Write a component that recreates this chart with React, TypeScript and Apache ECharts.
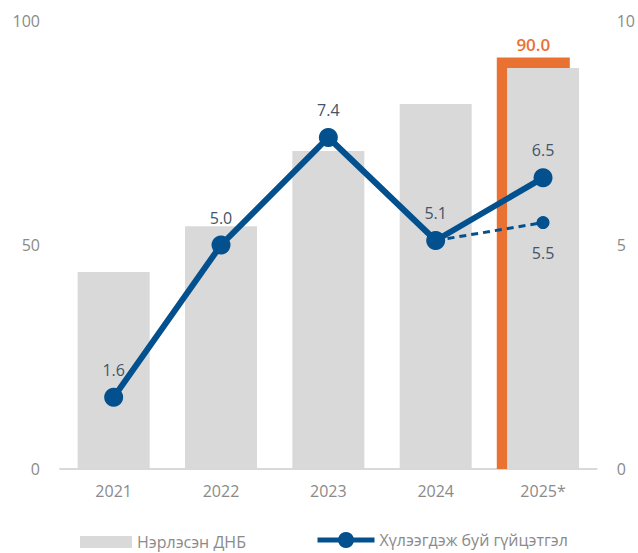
import React, { useEffect, useRef } from "react";
import * as echarts from "echarts";

const categories = ["2021", "2022", "2023", "2024", "2025*"];
const gdpValues = [44.0, 54.2, 71.0, 81.5, 89.5];
const targetValues = [null, null, null, null, 90.0];
const growthValues = [1.6, 5.0, 7.4, 5.1, 6.5];
const growthAltValues = [null, null, null, 5.1, 5.5];
const leftTicks = { min: 0, max: 100, interval: 50 };
const rightTicks = { min: 0, max: 10, interval: 5 };
const gdpName = "Нэрлэсэн ДНБ";
const growthName = "Хүлээгдэж буй гүйцэтгэл";

const FONT = "'Open Sans', 'Noto Sans', sans-serif";
const GRAY_TXT = "#8a8a8a";
const BLUE = "#02508e";
const LABEL = "#44546a";
const ORANGE = "#e97132";

export default function App() {
  const ref = useRef<HTMLDivElement>(null);
  useEffect(() => {
    document.body.style.margin = "0";
    if (!ref.current) return;
    const chart = echarts.init(ref.current, null, { renderer: "svg" });
    const axisLabel = { color: GRAY_TXT, fontSize: 16, fontFamily: FONT };
    chart.setOption({
      animation: false,
      textStyle: { fontFamily: FONT },
      grid: [
        { left: 60, right: 36, top: 21, bottom: 84 },
        { left: 45.5, right: 50.5, top: 21, bottom: 84 },
      ],
      xAxis: [
        {
          type: "category",
          gridIndex: 0,
          data: categories,
          axisLine: { lineStyle: { color: "#d9d9d9", width: 2 } },
          axisTick: { show: false },
          axisLabel: { ...axisLabel, margin: 14 },
        },
        {
          type: "category",
          gridIndex: 1,
          data: categories,
          show: false,
        },
      ],
      yAxis: [
        {
          type: "value",
          gridIndex: 0,
          ...leftTicks,
          splitLine: { show: false },
          axisLine: { show: false },
          axisTick: { show: false },
          axisLabel: { ...axisLabel, margin: 20 },
        },
        {
          type: "value",
          gridIndex: 0,
          position: "right",
          ...rightTicks,
          splitLine: { show: false },
          axisLine: { show: false },
          axisTick: { show: false },
          axisLabel: { ...axisLabel, margin: 20 },
        },
        {
          type: "value",
          gridIndex: 1,
          min: 0,
          max: 98,
          show: false,
        },
      ],
      legend: [
        {
          left: 75,
          top: 529,
          itemWidth: 52,
          itemHeight: 12,
          data: [{ name: gdpName, icon: "rect" }],
          textStyle: { color: GRAY_TXT, fontSize: 16, fontFamily: FONT },
        },
        {
          left: 310,
          top: 527,
          itemWidth: 57,
          itemHeight: 20,
          data: [{ name: growthName, lineStyle: { width: 5 } }],
          textStyle: { color: GRAY_TXT, fontSize: 16, fontFamily: FONT },
        },
      ],
      series: [
        {
          type: "bar",
          name: "target",
          xAxisIndex: 1,
          yAxisIndex: 2,
          data: targetValues,
          barWidth: 73,
          z: 1,
          itemStyle: { color: ORANGE },
          label: {
            show: true,
            position: "top",
            distance: 5,
            color: ORANGE,
            fontSize: 17,
            fontWeight: 600,
            fontFamily: FONT,
            formatter: (p: any) => (p.value == null ? "" : Number(p.value).toFixed(1)),
          },
        },
        {
          type: "bar",
          name: gdpName,
          xAxisIndex: 0,
          yAxisIndex: 0,
          data: gdpValues,
          barWidth: 72,
          z: 2,
          itemStyle: { color: "#d9d9d9" },
        },
        {
          type: "line",
          name: "alt",
          xAxisIndex: 0,
          yAxisIndex: 1,
          z: 3,
          data: growthAltValues.map((v, i) =>
            v == null ? null : i === growthAltValues.length - 1 ? { value: v } : { value: v, symbol: "none", label: { show: false } }
          ),
          symbol: "circle",
          symbolSize: 13,
          lineStyle: { color: BLUE, width: 3, type: [7, 5] },
          itemStyle: { color: BLUE },
          label: {
            show: true,
            position: "bottom",
            distance: 16,
            color: LABEL,
            fontSize: 16,
            fontFamily: FONT,
            formatter: (p: any) => Number(p.value).toFixed(1),
          },
        },
        {
          type: "line",
          name: growthName,
          xAxisIndex: 0,
          yAxisIndex: 1,
          z: 4,
          data: growthValues,
          symbol: "circle",
          symbolSize: 19,
          lineStyle: { color: BLUE, width: 6 },
          itemStyle: { color: BLUE },
          label: {
            show: true,
            position: "top",
            distance: 10,
            color: LABEL,
            fontSize: 16,
            fontFamily: FONT,
            formatter: (p: any) => Number(p.value).toFixed(1),
          },
        },
      ],
    });
    return () => chart.dispose();
  }, []);
  return <div ref={ref} style={{ position: "absolute", left: 0, top: 0, width: 638, height: 553 }} />;
}
